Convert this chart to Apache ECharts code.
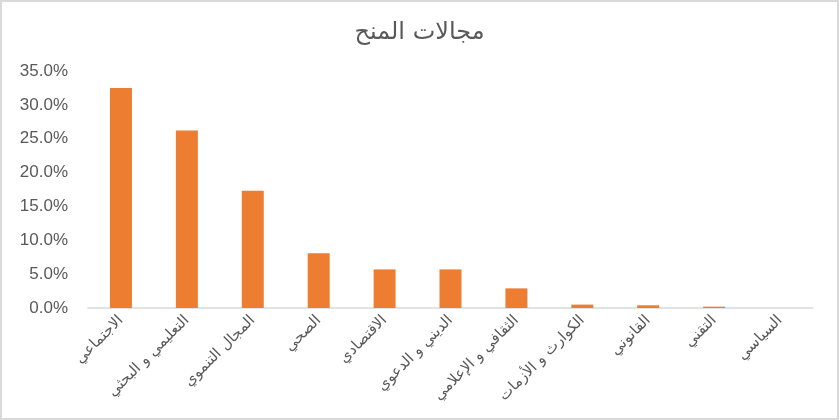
<!DOCTYPE html>
<html>
<head>
<meta charset="utf-8">
<script src="https://cdn.jsdelivr.net/npm/echarts@6/dist/echarts.min.js"></script>
<style>
  html, body { margin: 0; padding: 0; background: #fff; }
  #chart { width: 835px; height: 416px; border: 2px solid #d9d9d9; }
</style>
</head>
<body>
<div id="chart"></div>
<script>
const title = 'مجالات المنح';
const categories = ['الاجتماعي', 'التعليمي و البحثي', 'المجال التنموي', 'الصحي', 'الاقتصادي',
  'الديني و الدعوي', 'الثقافي و الإعلامي', 'الكوارث و الأزمات', 'القانوني', 'التقني', 'السياسي'];
const shares = [32.5, 26.2, 17.3, 8.1, 5.7, 5.7, 2.9, 0.5, 0.4, 0.2, 0];

const chart = echarts.init(document.getElementById('chart'));
chart.setOption({
  animation: false,
  title: {
    text: title,
    left: 'center',
    top: 14,
    textStyle: { color: '#595959', fontSize: 24, fontWeight: 'normal', fontFamily: 'DejaVu Sans' }
  },
  grid: { left: 86, right: 24, top: 69, bottom: 110 },
  xAxis: {
    type: 'category',
    data: categories,
    axisLine: { lineStyle: { color: '#d9d9d9', width: 1.5 } },
    axisTick: { show: false },
    axisLabel: {
      rotate: 45,
      interval: 0,
      margin: 10,
      color: '#595959',
      fontSize: 15,
      fontFamily: 'DejaVu Sans'
    }
  },
  yAxis: {
    type: 'value',
    min: 0,
    max: 35,
    interval: 5,
    splitLine: { show: false },
    axisLine: { show: false },
    axisTick: { show: false },
    axisLabel: {
      color: '#595959',
      fontSize: 17,
      fontFamily: 'Liberation Sans',
      margin: 20,
      formatter: (v) => v.toFixed(1) + '%'
    }
  },
  series: [{
    type: 'bar',
    data: shares,
    barWidth: 22,
    itemStyle: { color: '#ed7d31' }
  }]
});
</script>
</body>
</html>
